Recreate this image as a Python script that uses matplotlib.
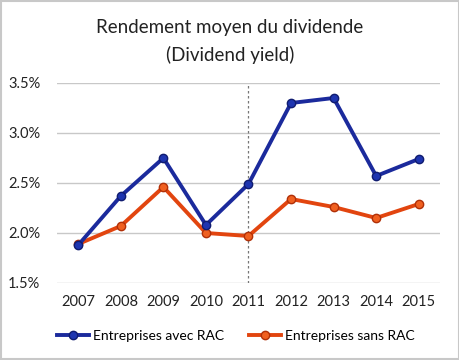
import matplotlib
matplotlib.use('Agg')
import matplotlib.pyplot as plt
from matplotlib.ticker import FuncFormatter

plt.rcParams['font.family'] = ['Lato', 'DejaVu Sans']

years = ['2007', '2008', '2009', '2010', '2011', '2012', '2013', '2014', '2015']
avec_rac = [1.88, 2.37, 2.75, 2.08, 2.49, 3.30, 3.35, 2.57, 2.74]
sans_rac = [1.89, 2.07, 2.46, 2.00, 1.97, 2.34, 2.26, 2.15, 2.29]
yticks = [1.5, 2.0, 2.5, 3.0, 3.5]

fig = plt.figure(figsize=(4.6, 3.6), dpi=100)
ax = fig.add_axes([57 / 460, 1 - 283 / 360, 383 / 460, 200 / 360])

x = list(range(len(years)))
ax.plot(x, avec_rac, color='#1b2a9c', lw=2.8, marker='o', ms=6,
        mfc='#1e35b0', mec='#101c70', label='Entreprises avec RAC', zorder=4)
ax.plot(x, sans_rac, color='#e2450f', lw=2.8, marker='o', ms=6,
        mfc='#f06020', mec='#b03008', label='Entreprises sans RAC', zorder=3)

# dashed line at 2011
ax.axvline(4, color='#777777', lw=0.9, ls=(0, (2, 2)), zorder=2)

ax.set_xlim(-0.5, 8.5)
ax.set_ylim(1.5, 3.5)
ax.set_yticks(yticks)
ax.yaxis.set_major_formatter(FuncFormatter(lambda v, p: '%.1f%%' % v))
ax.set_xticks(x)
ax.set_xticklabels(years)
ax.grid(axis='y', color='#c8c8c8', lw=1)
ax.set_axisbelow(True)
for s in ax.spines.values():
    s.set_visible(False)
ax.tick_params(length=0, labelsize=10.5, colors='#222222', pad=9)
ax.tick_params(axis='y', pad=12)

fig.text(0.5, 0.885, 'Rendement moyen du dividende\n(Dividend yield)',
         ha='center', va='center', fontsize=13.5, color='#222222', linespacing=1.65)

ax.legend(loc='upper left', bbox_to_anchor=(0.0, -0.235), ncol=2, frameon=False,
          fontsize=10, handlelength=2.3, columnspacing=1.8, handletextpad=0.3,
          borderaxespad=0, borderpad=0)

# frame around the whole image
fig.patches.append(plt.Rectangle((0.003, 0.004), 0.994, 0.992, transform=fig.transFigure,
                                 fill=False, ec='#c8c8c8', lw=1.5))

fig.savefig('out.png', dpi=100)
